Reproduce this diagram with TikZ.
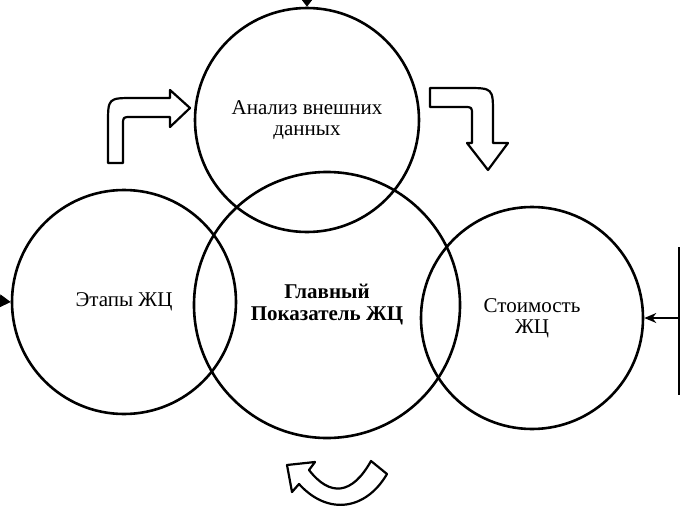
\documentclass[tikz,border=0pt]{standalone}
\usepackage{fontspec}
\setmainfont{Liberation Serif}
\usetikzlibrary{arrows.meta,positioning}

\begin{document}
\begin{tikzpicture}[x=1pt, y=-1pt, >=Stealth, line join=round,
  every node/.style={font=\fontsize{21}{21}\selectfont, align=center},
  ring/.style={draw, circle, line width=2.6pt, inner sep=0pt},
  bent/.style={draw, line width=2.2pt, fill=white},
  feed/.style={line width=1.2pt, -{Triangle[length=11pt,width=13pt]}}]
  \useasboundingbox (0,0) rectangle (680,514);

  \node[ring, minimum size=224] (top) at (307,120) {Анализ внешних\\данных};
  \node[ring, minimum size=224] (left) at (124,302) {Этапы ЖЦ};
  \node[ring, minimum size=222] (right) at (532,318) {Стоимость\\ЖЦ};
  \node[ring, minimum size=266, font=\fontsize{21}{22}\selectfont\bfseries] (mid) at (327,305) {Главный\\Показатель ЖЦ};

  \coordinate (intop) at (307,0);
  \coordinate (inleft) at (0,301);
  \coordinate (barup) at (679,247);
  \coordinate (bardown) at (679,395);
  \coordinate (inright) at (679,318);
  \draw[feed, -{Triangle[length=8pt,width=12pt]}] (intop) -- (top.north);
  \draw[feed] (inleft) -- (left.west);
  \draw[line width=1.2pt] (barup) -- (bardown);
  \draw[feed, -{Stealth[length=12pt,width=10pt]}] (inright) -- (right.east);

  \draw[bent] (108,163) -- (108,124) .. controls (108,98) .. (134,98) -- (170,98) -- (170,90)
    -- (190,108) -- (170,127) -- (170,117) -- (131,117) .. controls (123,117) .. (123,125) -- (123,163) -- cycle;
  \draw[bent] (430,88) -- (466,88) .. controls (493,88) .. (493,114) -- (493,143) -- (508,143)
    -- (488,170) -- (467,143) -- (472,143) -- (472,115) .. controls (472,107) .. (464,107) -- (430,107) -- cycle;
  \draw[bent] (287,465) -- (315,462) -- (309,470) .. controls (330,497) and (352,495) .. (371,461)
    -- (387,474) .. controls (366,510) and (328,516) .. (299,484) -- (292,492) -- cycle;
\end{tikzpicture}
\end{document}
